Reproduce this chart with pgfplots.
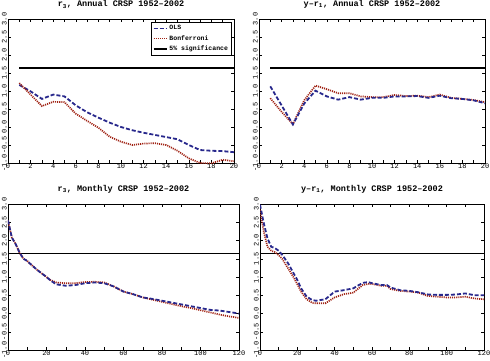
\documentclass[border=0pt]{standalone}
\usepackage{fontspec}
\setmainfont{Liberation Mono}
\usepackage{pgfplots}
\pgfplotsset{compat=1.18}
\definecolor{olsblue}{RGB}{40,40,140}
\definecolor{bonred}{RGB}{160,35,20}
\pgfplotsset{
  panel/.style={
    scale only axis,
    anchor=south west,
    ymin=-1, ymax=3,
    ytick={-1,-0.5,...,3},
    tick align=inside,
    major tick length=3pt,
    minor tick length=3pt,
    tick style={black, line width=0.5pt},
    axis line style={line width=0.8pt},
    /pgf/number format/assume math mode=true,
    ticklabel style={font=\fontsize{7}{7.5}\selectfont},
    yticklabel style={rotate=90, anchor=south, inner sep=1pt,
      /pgf/number format/fixed, /pgf/number format/fixed zerofill,
      /pgf/number format/precision=1},
    xticklabel style={/pgf/number format/fixed, inner sep=0.8pt},
    title style={font=\fontsize{8.5}{9}\selectfont\bfseries, yshift=1pt},
    clip=true,
  },
  annual/.style={xmin=0, xmax=20, xtick={0,2,...,20}, minor xtick={1,3,...,19}},
  monthly/.style={xmin=0, xmax=120, xtick={0,20,...,120}, minor xtick={10,30,...,110}},
  ols/.style={olsblue, line width=1.8pt, dash pattern=on 4pt off 2pt},
  bon/.style={bonred, line width=1.7pt, dash pattern=on 1.1pt off 1pt},
  sig/.style={black, line width=1.8pt},
}
\begin{document}
\begin{tikzpicture}
\useasboundingbox (0,0) rectangle (490pt,360pt);
% top-left
\begin{axis}[panel, annual, at={(8pt,197pt)}, width=226pt, height=144pt,
  title={r\textsubscript{3}, Annual CRSP 1952--2002},
  legend style={at={(rel axis cs:0.99,0.98)}, anchor=north east,
    font=\fontsize{6.5}{7.5}\selectfont\bfseries, draw=black, line width=0.5pt,
    inner sep=1.5pt, row sep=0pt, cells={anchor=west}},
  legend image code/.code={\draw[#1] (0pt,0pt) -- (13pt,0pt);}]
\addplot[ols] coordinates {(1,1.17) (2,0.99) (3,0.78) (4,0.90) (5,0.85) (6,0.60) (7,0.41) (8,0.26) (9,0.12) (10,0.00) (11,-0.09) (12,-0.16) (13,-0.22) (14,-0.28) (15,-0.34) (16,-0.50) (17,-0.64) (18,-0.66) (19,-0.67) (20,-0.70)};
\addlegendentry{OLS}
\addplot[bon] coordinates {(1,1.22) (2,0.90) (3,0.58) (4,0.70) (5,0.69) (6,0.37) (7,0.17) (8,-0.02) (9,-0.27) (10,-0.41) (11,-0.50) (12,-0.46) (13,-0.45) (14,-0.50) (15,-0.66) (16,-0.87) (17,-1.00) (18,-1.01) (19,-0.91) (20,-0.95)};
\addlegendentry{Bonferroni}
\addplot[sig] coordinates {(1,1.645) (20,1.645)};
\addlegendentry{5\% significance}
\end{axis}
% top-right
\begin{axis}[panel, annual, at={(259pt,197pt)}, width=226pt, height=144pt,
  title={y--r\textsubscript{1}, Annual CRSP 1952--2002}]
\addplot[sig] coordinates {(1,1.645) (20,1.645)};
\addplot[bon] coordinates {(1,0.80) (2,0.42) (3,0.08) (4,0.74) (5,1.15) (6,1.05) (7,0.94) (8,0.94) (9,0.85) (10,0.83) (11,0.83) (12,0.89) (13,0.86) (14,0.87) (15,0.83) (16,0.90) (17,0.81) (18,0.78) (19,0.75) (20,0.69)};
\addplot[ols] coordinates {(1,1.13) (2,0.60) (3,0.07) (4,0.65) (5,1.01) (6,0.85) (7,0.76) (8,0.83) (9,0.76) (10,0.81) (11,0.81) (12,0.85) (13,0.85) (14,0.86) (15,0.81) (16,0.87) (17,0.80) (18,0.78) (19,0.74) (20,0.66)};
\end{axis}
% bottom-left
\begin{axis}[panel, monthly, at={(8pt,10pt)}, width=231pt, height=146pt,
  title={r\textsubscript{3}, Monthly CRSP 1952--2002}]
\addplot[sig] coordinates {(0,1.645) (120,1.645)};
\addplot[bon] coordinates {(0,2.55) (2,2.08) (4,1.90) (6,1.67) (8,1.50) (10,1.44) (12,1.34) (15,1.20) (18,1.08) (20,1.00) (22,0.92) (25,0.85) (30,0.83) (35,0.83) (40,0.86) (45,0.87) (50,0.85) (55,0.74) (60,0.60) (65,0.53) (70,0.44) (75,0.38) (80,0.32) (85,0.26) (90,0.20) (95,0.15) (100,0.09) (105,0.03) (110,-0.03) (115,-0.08) (120,-0.12)};
\addplot[ols] coordinates {(0,2.55) (2,2.08) (4,1.90) (6,1.67) (8,1.50) (10,1.44) (12,1.34) (15,1.20) (18,1.08) (20,1.00) (22,0.91) (25,0.80) (30,0.76) (35,0.78) (40,0.83) (45,0.85) (50,0.83) (55,0.74) (60,0.60) (65,0.53) (70,0.44) (75,0.40) (80,0.35) (85,0.30) (90,0.25) (95,0.20) (100,0.15) (105,0.10) (110,0.08) (115,0.04) (120,0.00)};
\end{axis}
% bottom-right
\begin{axis}[panel, monthly, at={(260pt,10pt)}, width=224pt, height=146pt,
  title={y--r\textsubscript{1}, Monthly CRSP 1952--2002}]
\addplot[sig] coordinates {(0,1.645) (120,1.645)};
\addplot[bon] coordinates {(0,2.84) (2,2.25) (4,1.83) (6,1.72) (8,1.68) (10,1.60) (12,1.49) (15,1.24) (18,0.99) (20,0.80) (22,0.60) (25,0.39) (28,0.29) (30,0.28) (35,0.28) (40,0.44) (45,0.53) (50,0.57) (55,0.78) (58,0.81) (60,0.81) (65,0.76) (68,0.76) (70,0.67) (75,0.62) (80,0.60) (85,0.57) (90,0.48) (95,0.46) (100,0.44) (105,0.44) (110,0.46) (115,0.41) (120,0.39)};
\addplot[ols] coordinates {(0,2.98) (2,2.48) (4,2.06) (6,1.83) (8,1.79) (10,1.72) (12,1.60) (15,1.38) (18,1.10) (20,0.92) (22,0.69) (25,0.46) (28,0.37) (30,0.35) (35,0.39) (40,0.60) (45,0.64) (50,0.69) (55,0.84) (58,0.86) (60,0.83) (65,0.78) (68,0.78) (70,0.71) (75,0.64) (80,0.62) (85,0.58) (90,0.52) (95,0.51) (100,0.51) (105,0.52) (110,0.55) (115,0.50) (120,0.50)};
\end{axis}
\end{tikzpicture}
\end{document}
